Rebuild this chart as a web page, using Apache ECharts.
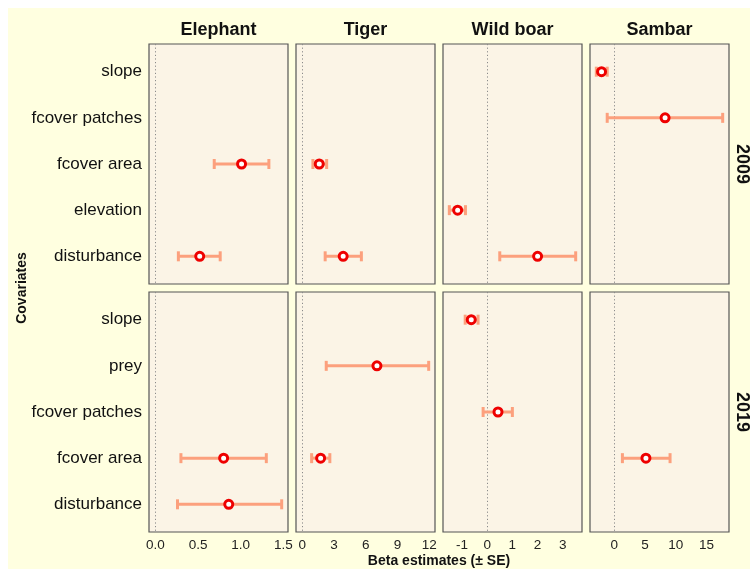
<!DOCTYPE html>
<html>
<head>
<meta charset="utf-8">
<script src="https://cdn.jsdelivr.net/npm/echarts@6/dist/echarts.min.js"></script>
<style>
  html, body { margin: 0; padding: 0; background: #ffffff; }
  #chart { position: absolute; left: 0; top: 0; width: 750px; height: 569px; }
  .wb { position: absolute; background: #ffffff; z-index: 10; }
</style>
</head>
<body>
<div id="chart"></div>
<div class="wb" style="left:0;top:0;width:750px;height:8px;"></div>
<div class="wb" style="left:0;top:0;width:8px;height:569px;"></div>
<script>
// ---------------- DATA ----------------
const species = ['Elephant', 'Tiger', 'Wild boar', 'Sambar'];
const years = ['2009', '2019'];
const covariates2009 = ['slope', 'fcover patches', 'fcover area', 'elevation', 'disturbance'];
const covariates2019 = ['slope', 'prey', 'fcover patches', 'fcover area', 'disturbance'];

// [covariate, estimate, lower, upper]
const elephant2009 = [['fcover area', 1.01, 0.69, 1.33], ['disturbance', 0.52, 0.27, 0.76]];
const tiger2009 = [['fcover area', 1.6, 1.0, 2.3], ['disturbance', 3.86, 2.16, 5.58]];
const wildboar2009 = [['elevation', -1.17, -1.5, -0.86], ['disturbance', 2.0, 0.5, 3.51]];
const sambar2009 = [['slope', -2.05, -2.9, -1.13], ['fcover patches', 8.27, -1.13, 17.63]];

const elephant2019 = [['fcover area', 0.80, 0.30, 1.30], ['disturbance', 0.86, 0.26, 1.48]];
const tiger2019 = [['prey', 7.05, 2.26, 11.94], ['fcover area', 1.73, 0.88, 2.6]];
const wildboar2019 = [['slope', -0.63, -0.87, -0.36], ['fcover patches', 0.43, -0.16, 1.0]];
const sambar2019 = [['fcover area', 5.16, 1.34, 9.08]];

const elephantTicks = [0, 0.5, 1.0, 1.5];
const tigerTicks = [0, 3, 6, 9, 12];
const wildboarTicks = [-1, 0, 1, 2, 3];
const sambarTicks = [0, 5, 10, 15];

// ---------------- LAYOUT ----------------
const panels = [
  [elephant2009, tiger2009, wildboar2009, sambar2009],
  [elephant2019, tiger2019, wildboar2019, sambar2019]
];
const covByRow = [covariates2009, covariates2019];
const ticksByCol = [elephantTicks, tigerTicks, wildboarTicks, sambarTicks];
const fmtByCol = [v => v.toFixed(1), v => String(v), v => String(v), v => String(v)];

const colLeft = [149, 296, 443, 590];
const panelW = 139;
const rowTop = [44, 292];
const panelH = 240;

const FONT = '"Liberation Sans", Arial, Helvetica, sans-serif';
const barColor = '#FCA07D';
const ptColor = '#EE0000';

// x ranges per column, ggplot style (include 0, 5% expansion)
const xRange = [0, 1, 2, 3].map(c => {
  let lo = 0, hi = 0;
  [0, 1].forEach(r => panels[r][c].forEach(d => { lo = Math.min(lo, d[2]); hi = Math.max(hi, d[3]); }));
  const pad = 0.05 * (hi - lo);
  return [lo - pad, hi + pad];
});

const grids = [], xAxes = [], yAxes = [], series = [];
for (let r = 0; r < 2; r++) {
  for (let c = 0; c < 4; c++) {
    const idx = r * 4 + c;
    const covs = covByRow[r];
    grids.push({
      left: colLeft[c], top: rowTop[r], width: panelW, height: panelH,
      show: true, backgroundColor: '#FBF4E6', borderColor: '#555555', borderWidth: 1.2
    });
    xAxes.push({
      type: 'value', gridIndex: idx, min: xRange[c][0], max: xRange[c][1],
      axisLine: { show: false }, axisTick: { show: false }, splitLine: { show: false },
      axisLabel: {
        show: r === 1, customValues: ticksByCol[c], formatter: fmtByCol[c],
        color: '#222', fontSize: 13.5, fontFamily: FONT, margin: 6,
        showMinLabel: true, showMaxLabel: true
      }
    });
    yAxes.push({
      type: 'value', gridIndex: idx, min: 0.4, max: covs.length + 0.6, inverse: true,
      axisLine: { show: false }, axisTick: { show: false }, splitLine: { show: false },
      axisLabel: {
        show: c === 0, customValues: covs.map((_, i) => i + 1),
        formatter: v => covs[Math.round(v) - 1] || '',
        color: '#111', fontSize: 17, fontFamily: FONT, margin: 7
      }
    });
    const data = panels[r][c];
    series.push({
      type: 'custom', xAxisIndex: idx, yAxisIndex: idx, silent: true, z: 3,
      data: data.map(d => [covs.indexOf(d[0]) + 1, d[2], d[3]]),
      encode: { x: [1, 2], y: 0 },
      renderItem: function (params, api) {
        const y = api.value(0), lo = api.value(1), hi = api.value(2);
        const p1 = api.coord([lo, y]);
        const p2 = api.coord([hi, y]);
        const h = 5;
        const st = { stroke: barColor, lineWidth: 3 };
        return {
          type: 'group', children: [
            { type: 'line', shape: { x1: p1[0], y1: p1[1], x2: p2[0], y2: p2[1] }, style: st },
            { type: 'line', shape: { x1: p1[0], y1: p1[1] - h, x2: p1[0], y2: p1[1] + h }, style: st },
            { type: 'line', shape: { x1: p2[0], y1: p2[1] - h, x2: p2[0], y2: p2[1] + h }, style: st }
          ]
        };
      }
    });
    series.push({
      type: 'scatter', xAxisIndex: idx, yAxisIndex: idx, silent: true, z: 4,
      symbol: 'circle', symbolSize: 8,
      itemStyle: { color: '#ffffff', borderColor: ptColor, borderWidth: 3, opacity: 1 },
      data: data.map(d => [d[1], covs.indexOf(d[0]) + 1]),
      markLine: {
        silent: true, symbol: ['none', 'none'], label: { show: false },
        lineStyle: { type: [1.2, 2.4], color: '#8a8a8a', width: 1 },
        emphasis: { disabled: true },
        data: [{ xAxis: 0 }], z: 1
      }
    });
  }
}

const graphics = [];
species.forEach((s, c) => {
  graphics.push({
    type: 'text', x: colLeft[c] + panelW / 2, y: 30,
    style: { text: s, fill: '#111', font: 'bold 18px ' + FONT, align: 'center', verticalAlign: 'middle' }
  });
});
years.forEach((yr, r) => {
  graphics.push({
    type: 'text', x: 742, y: rowTop[r] + panelH / 2, rotation: -Math.PI / 2,
    style: { text: yr, fill: '#111', font: 'bold 18px ' + FONT, align: 'center', verticalAlign: 'middle' }
  });
});
graphics.push({
  type: 'text', x: 22, y: 288, rotation: Math.PI / 2,
  style: { text: 'Covariates', fill: '#111', font: 'bold 14px ' + FONT, align: 'center', verticalAlign: 'middle' }
});
graphics.push({
  type: 'text', x: 439, y: 561,
  style: { text: 'Beta estimates (± SE)', fill: '#111', font: 'bold 14px ' + FONT, align: 'center', verticalAlign: 'middle' }
});

const chart = echarts.init(document.getElementById('chart'), null, { renderer: 'canvas' });
chart.setOption({
  backgroundColor: '#FFFFE0',
  animation: false,
  grid: grids,
  xAxis: xAxes,
  yAxis: yAxes,
  series: series,
  graphic: graphics
});
</script>
</body>
</html>
